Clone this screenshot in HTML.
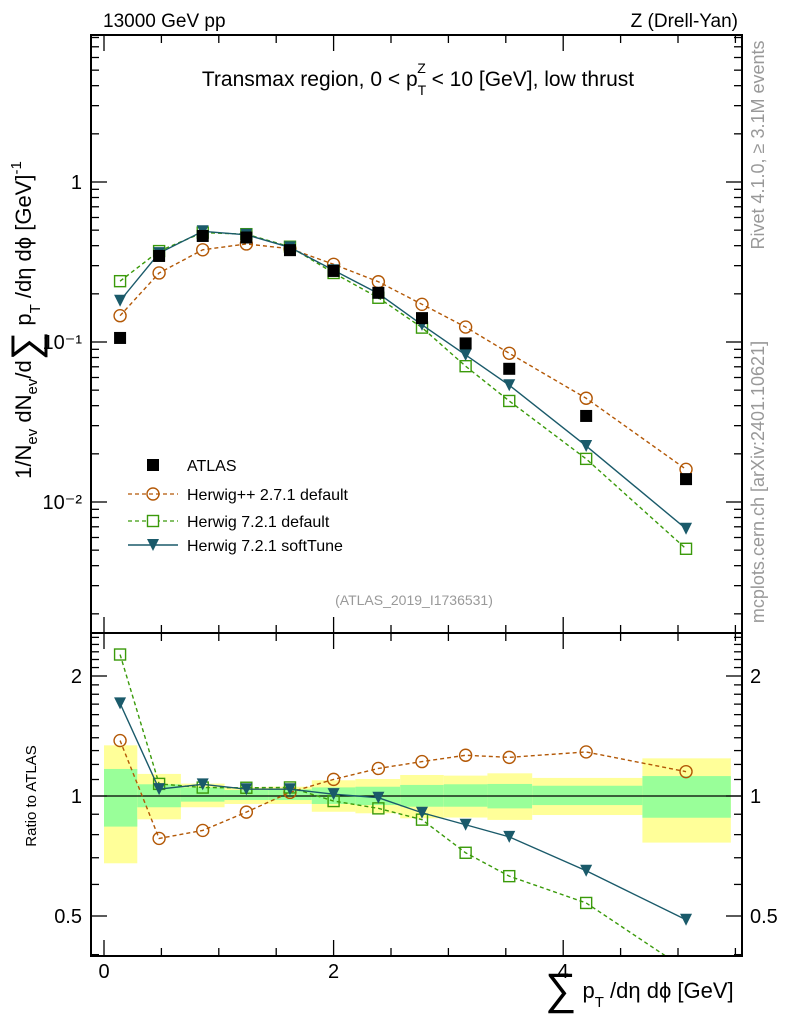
<!DOCTYPE html>
<html><head><meta charset="utf-8"><style>
body{margin:0;background:#fff;}
svg{display:block;font-family:"Liberation Sans",sans-serif;}
</style></head><body>
<svg id="c" width="786" height="1024" viewBox="0 0 786 1024">
<rect x="0" y="0" width="786" height="1024" fill="#fff"/>
<g id="bands"></g>
<g id="main"></g>
<g id="ratio"></g>
<g id="axes"></g>
<text x="103" y="27" font-size="19">13000 GeV pp</text>
<text x="738" y="27" font-size="19" text-anchor="end">Z (Drell-Yan)</text>
<text x="418" y="86" font-size="21" text-anchor="middle">Transmax region, 0 &lt; p<tspan font-size="14" dy="9">T</tspan><tspan font-size="14" dx="-9" dy="-22">Z</tspan><tspan dy="13"> &lt; 10 [GeV], low thrust</tspan></text>
<text x="414" y="605" font-size="14" fill="#999" text-anchor="middle">(ATLAS_2019_I1736531)</text>
<text transform="translate(764,145) rotate(-90)" font-size="18" fill="#999" text-anchor="middle">Rivet 4.1.0, ≥ 3.1M events</text>
<text transform="translate(764,482) rotate(-90)" font-size="18" fill="#999" text-anchor="middle">mcplots.cern.ch [arXiv:2401.10621]</text>
<text transform="translate(31,320) rotate(-90)" font-size="22" text-anchor="middle">1/N<tspan font-size="15" dy="6">ev</tspan><tspan dy="-6"> dN</tspan><tspan font-size="15" dy="6">ev</tspan><tspan dy="-6">/d</tspan><tspan font-size="40" dy="8">∑</tspan><tspan dy="-8"> p</tspan><tspan font-size="15" dy="9">T</tspan><tspan dy="-9"> /dη dϕ  [GeV]</tspan><tspan font-size="15" dy="-10">-1</tspan></text>
<text transform="translate(36,796) rotate(-90)" font-size="15" text-anchor="middle">Ratio to ATLAS</text>
<text x="545" y="998" font-size="22"><tspan font-size="44" dy="6">∑</tspan><tspan dy="-6"> p</tspan><tspan font-size="15" dy="9">T</tspan><tspan dy="-9"> /dη dϕ [GeV]</tspan></text>
<g id="legend">
<rect x="147" y="459" width="12" height="12" fill="#000"/>
<text x="187" y="471" font-size="16">ATLAS</text>
<line x1="128" y1="494" x2="178" y2="494" stroke="#b35806" stroke-width="1.3" stroke-dasharray="4,3"/>
<circle cx="153" cy="494" r="6" fill="none" stroke="#b35806" stroke-width="1.4"/>
<text x="187" y="500" font-size="16">Herwig++ 2.7.1 default</text>
<line x1="128" y1="521" x2="178" y2="521" stroke="#3a9a0a" stroke-width="1.3" stroke-dasharray="4,3"/>
<rect x="147.5" y="515.5" width="11" height="11" fill="#fff" stroke="#3a9a0a" stroke-width="1.4"/>
<text x="187" y="527" font-size="16">Herwig 7.2.1 default</text>
<line x1="128" y1="545" x2="178" y2="545" stroke="#1a5a6a" stroke-width="1.5"/>
<path d="M147,539 L159,539 L153,551 Z" fill="#1a5a6a"/>
<text x="187" y="551" font-size="16">Herwig 7.2.1 softTune</text>
</g>
</svg>
<script>
const xCenters=[0.14,0.48,0.86,1.24,1.62,2.0,2.39,2.77,3.15,3.53,4.2,5.07];
const binEdges=[0,0.29,0.67,1.05,1.43,1.81,2.19,2.58,2.96,3.34,3.73,4.69,5.46];
const atlas=[0.106,0.345,0.46,0.45,0.375,0.278,0.203,0.141,0.098,0.068,0.0345,0.0139];
const herwigpp=[0.146,0.27,0.377,0.41,0.383,0.306,0.238,0.172,0.124,0.085,0.0445,0.016];
const herwig721=[0.24,0.37,0.483,0.472,0.394,0.27,0.189,0.123,0.0706,0.0428,0.0186,0.0051];
const softTune=[0.181,0.359,0.492,0.468,0.39,0.281,0.201,0.128,0.083,0.0537,0.0224,0.0068];
const yellowUp=[1.34,1.136,1.074,1.051,1.055,1.095,1.103,1.129,1.125,1.14,1.11,1.243];
const yellowDn=[0.678,0.874,0.937,0.955,0.955,0.913,0.905,0.879,0.883,0.871,0.896,0.764];
const greenUp=[1.169,1.07,1.051,1.035,1.039,1.051,1.055,1.066,1.07,1.072,1.061,1.122];
const greenDn=[0.838,0.937,0.968,0.977,0.977,0.955,0.949,0.94,0.94,0.931,0.949,0.882];
const xTickLabels=["0","2","4"];
const mainTickLabels=["10\u207B\u00B2","10\u207B\u00B9","1"];
const ratioTickLabels=["0.5","1","2"];

const NS="http://www.w3.org/2000/svg";
const L=91,R=742,MT=35,MB=633,RT=633,RB=956;
const X=v=>104+114.8*v;
const Y=v=>182-160*Math.log10(v);
const YR=v=>796-120*Math.log2(v);
function mk(tag,attrs,parent){const e=document.createElementNS(NS,tag);for(const k in attrs)e.setAttribute(k,attrs[k]);parent.appendChild(e);return e;}
const bands=document.getElementById('bands'),main=document.getElementById('main'),ratio=document.getElementById('ratio'),axes=document.getElementById('axes');

for(let i=0;i<yellowUp.length;i++){
  const x0=X(binEdges[i]),x1=X(binEdges[i+1]);
  const y=mk('rect',{x:x0,y:YR(yellowUp[i]),width:x1-x0,height:YR(yellowDn[i])-YR(yellowUp[i]),fill:'#ffff99'},bands);
  
  
  const g=mk('rect',{x:x0,y:YR(greenUp[i]),width:x1-x0,height:YR(greenDn[i])-YR(greenUp[i]),fill:'#99ff99'},bands);
  
  
}
mk('line',{x1:L,y1:YR(1),x2:R,y2:YR(1),stroke:'#000','stroke-width':1.3},bands);

function marker(type,cx,cy,color,parent){
  let e;
  if(type==='circle')e=mk('circle',{cx,cy,r:6,fill:'none',stroke:color,'stroke-width':1.4},parent);
  else if(type==='square')e=mk('rect',{x:cx-5.5,y:cy-5.5,width:11,height:11,fill:'none',stroke:color,'stroke-width':1.4},parent);
  else if(type==='tri')e=mk('path',{d:`M${cx-6},${cy-6} L${cx+6},${cy-6} L${cx},${cy+6} Z`,fill:color},parent);
  else e=mk('rect',{x:cx-6,y:cy-6,width:12,height:12,fill:color},parent);
  return e;
}
function series(vals,color,dash,type,name,isRatio){
  const parent=isRatio?ratio:main;
  const yf=isRatio?YR:Y;
  const pts=vals.map((v,i)=>[X(xCenters[i]),yf(isRatio?v/atlas[i]:v)]);
  const p=mk('polyline',{points:pts.map(p=>p.join(',')).join(' '),fill:'none',stroke:color,'stroke-width':1.4,'stroke-dasharray':dash},parent);
  
  
  pts.forEach(pt=>{const m=marker(type,pt[0],pt[1],color,parent);
    
    });
}
const clip=mk('clipPath',{id:'rc'},document.getElementById('c'));
mk('rect',{x:L,y:RT,width:R-L,height:RB-RT},clip);
ratio.setAttribute('clip-path','url(#rc)');

series(herwigpp,'#b35806','4,3','circle','herwigpp',false);
series(herwig721,'#3a9a0a','4,3','square','herwig721',false);
series(softTune,'#1a5a6a','none','tri','softtune',false);
atlas.forEach((v,i)=>{const m=marker('data',X(xCenters[i]),Y(v),'#000',main);
  
  });
series(herwigpp,'#b35806','4,3','circle','herwigpp-ratio',true);
series(herwig721,'#3a9a0a','4,3','square','herwig721-ratio',true);
series(softTune,'#1a5a6a','none','tri','softtune-ratio',true);

mk('rect',{x:L,y:MT,width:R-L,height:MB-MT,fill:'none',stroke:'#000','stroke-width':2},axes);
mk('rect',{x:L,y:RT,width:R-L,height:RB-RT,fill:'none',stroke:'#000','stroke-width':2},axes);
for(let v=0;v<=5.5;v+=0.5){
  const x=X(v),maj=Math.abs(v%2)<1e-6,len=maj?16:8;
  [[MT,1],[MB,-1],[RT,1],[RB,-1]].forEach(([y,d])=>mk('line',{x1:x,y1:y,x2:x,y2:y+d*len,stroke:'#000','stroke-width':1.3},axes));
}
[0,2,4].forEach((v,i)=>{const t=mk('text',{x:X(v),y:978,'font-size':20,'text-anchor':'middle'},axes);t.textContent=xTickLabels[i];
  
  });
for(let d=-3;d<=0;d++){for(let k=1;k<=9;k++){const v=k*Math.pow(10,d);const y=Y(v);if(y<MT||y>MB)continue;
  const len=k===1?16:8;
  mk('line',{x1:L,y1:y,x2:L+len,y2:y,stroke:'#000','stroke-width':1.3},axes);
  mk('line',{x1:R,y1:y,x2:R-len,y2:y,stroke:'#000','stroke-width':1.3},axes);}}
[0.01,0.1,1].forEach((v,i)=>{const t=mk('text',{x:82,y:Y(v)+7,'font-size':20,'text-anchor':'end'},axes);t.textContent=mainTickLabels[i];
  
  });
for(let v=0.4;v<=2.55;v+=0.1){const y=YR(v);if(y<RT||y>RB)continue;
  const maj=[0.5,1,2].some(m=>Math.abs(m-v)<1e-6),len=maj?16:8;
  mk('line',{x1:L,y1:y,x2:L+len,y2:y,stroke:'#000','stroke-width':1.3},axes);
  mk('line',{x1:R,y1:y,x2:R-len,y2:y,stroke:'#000','stroke-width':1.3},axes);}
[0.5,1,2].forEach((v,i)=>{
  const t=mk('text',{x:82,y:YR(v)+7,'font-size':20,'text-anchor':'end'},axes);t.textContent=ratioTickLabels[i];
  
  
  const t2=mk('text',{x:750,y:YR(v)+7,'font-size':20},axes);t2.textContent=ratioTickLabels[i];
  
  });
</script>
</body></html>
